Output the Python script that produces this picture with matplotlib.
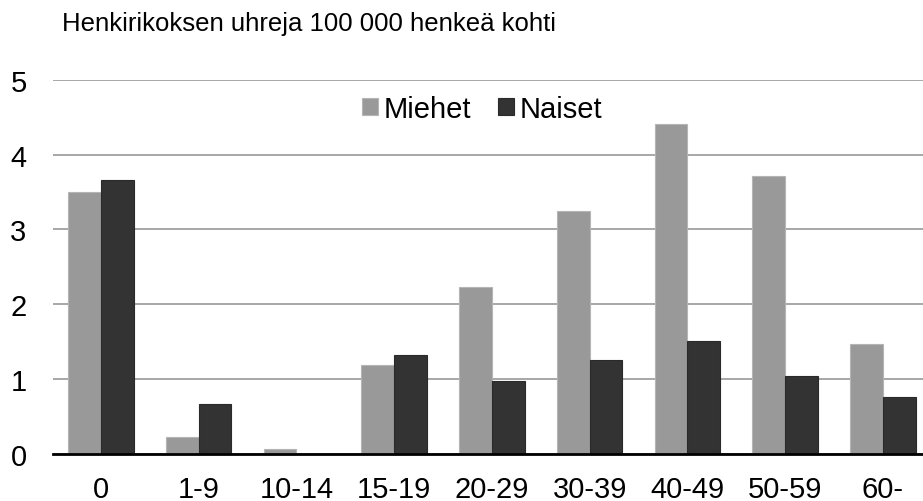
import numpy as np
import matplotlib.pyplot as plt

plt.rcParams['font.family'] = ['Liberation Sans', 'DejaVu Sans']

ryhmat = ["0", "1-9", "10-14", "15-19", "20-29", "30-39", "40-49", "50-59", "60-"]
miehet = [3.50, 0.23, 0.07, 1.19, 2.23, 3.24, 4.41, 3.72, 1.47]
naiset = [3.66, 0.67, 0.0, 1.32, 0.98, 1.26, 1.51, 1.04, 0.76]

x = np.arange(len(ryhmat))
w = 0.335

fig = plt.figure(figsize=(9.23, 5.02), dpi=100)
ax = fig.add_axes([53/923, 1 - 455/502, 1 - 53/923, (455 - 80.7)/502])

ax.bar(x - w/2, miehet, w, color="#999999", edgecolor="#b5b5b5", linewidth=0.8, label="Miehet", zorder=3)
ax.bar(x + w/2, naiset, w, color="#333333", edgecolor="#2a2a2a", linewidth=0.8, label="Naiset", zorder=3)

ax.set_xlim(-0.49, 8.41)
ax.set_ylim(0, 5)
ax.set_yticks(range(6))
ax.set_xticks(x)
ax.set_xticklabels(ryhmat)
ax.tick_params(axis="both", length=0, labelsize=21)
ax.tick_params(axis="y", pad=19)
ax.tick_params(axis="x", pad=15)
ax.grid(axis="y", color="#a0a0a0", linewidth=1.3, zorder=0)
for s in ["top", "right", "left"]:
    ax.spines[s].set_visible(False)
ax.spines["bottom"].set_linewidth(2)
ax.spines["bottom"].set_zorder(4)

ax.legend(loc="center", bbox_to_anchor=(482/923, 1 - 110/502), bbox_transform=fig.transFigure,
          ncol=2, frameon=False, fontsize=21, handlelength=0.55, handleheight=0.55,
          handletextpad=0.2, columnspacing=0.9, borderaxespad=0)

fig.text(62/923, 1 - 24/502, "Henkirikoksen uhreja 100 000 henkeä kohti", fontsize=18.5, va="center", ha="left")

plt.savefig("out.png", dpi=100)
